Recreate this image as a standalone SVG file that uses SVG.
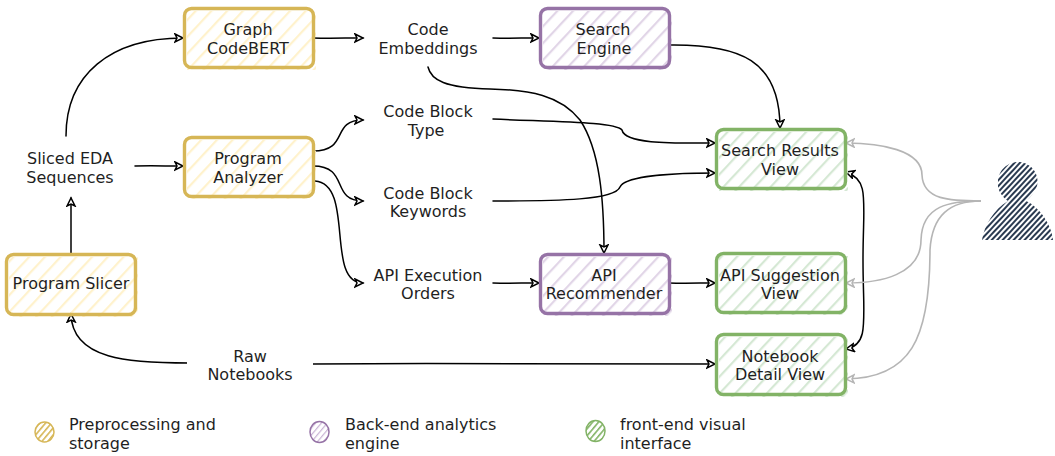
<svg xmlns="http://www.w3.org/2000/svg" width="1055" height="456" viewBox="0 0 1055 456">
<style>
text{font-family:"DejaVu Sans",Verdana,sans-serif;font-size:16px;fill:#1f1f1f;text-anchor:middle}
.leg text{text-anchor:start}
.box{fill:none;stroke-width:3.4}
.y{stroke:#d6b656}.p{stroke:#9673a6}.g{stroke:#82b366}
.c{fill:none;stroke:#000;stroke-width:1.5;stroke-linecap:round}
.u{fill:none;stroke:#b5b5b5;stroke-width:1.6}
</style>
<defs>
<pattern id="hy" width="11.500" height="11.500" patternUnits="userSpaceOnUse" patternTransform="rotate(-47)"><rect width="11.500" height="2.200" fill="#fff2cc"/></pattern>
<pattern id="hp" width="11.500" height="11.500" patternUnits="userSpaceOnUse" patternTransform="rotate(-47)"><rect width="11.500" height="2.200" fill="#e1d5e7"/></pattern>
<pattern id="hg" width="11.500" height="11.500" patternUnits="userSpaceOnUse" patternTransform="rotate(-47)"><rect width="11.500" height="2.200" fill="#d5e8d4"/></pattern>
<pattern id="hd" width="4" height="4" patternUnits="userSpaceOnUse" patternTransform="rotate(-47)"><rect width="4" height="2" fill="#2a3a50"/></pattern>
<pattern id="ly" width="4.500" height="4.500" patternUnits="userSpaceOnUse" patternTransform="rotate(-50)"><rect width="4.500" height="1.600" fill="#d6b656"/></pattern>
<pattern id="lp" width="4.500" height="4.500" patternUnits="userSpaceOnUse" patternTransform="rotate(-50)"><rect width="4.500" height="1.200" fill="#c9b3d4"/></pattern>
<pattern id="lg" width="4.500" height="4.500" patternUnits="userSpaceOnUse" patternTransform="rotate(-50)"><rect width="4.500" height="1.600" fill="#82b366"/></pattern>
<marker id="a" markerWidth="11" markerHeight="11" refX="9" refY="5" orient="auto" markerUnits="userSpaceOnUse"><path d="M1,1 L9,5 L1,9 L3,5 Z" fill="#fff" stroke="#000" stroke-width="1.500"/></marker>
<marker id="ar" markerWidth="11" markerHeight="11" refX="9" refY="5" orient="auto-start-reverse" markerUnits="userSpaceOnUse"><path d="M1,1 L9,5 L1,9 L3,5 Z" fill="#fff" stroke="#000" stroke-width="1.500"/></marker>
<marker id="g" markerWidth="11" markerHeight="11" refX="9" refY="5" orient="auto" markerUnits="userSpaceOnUse"><path d="M1,1 L9,5 L1,9 L3,5 Z" fill="#fff" stroke="#b5b5b5" stroke-width="1.500"/></marker>
</defs>

<g id="connectors">
<path class="c" marker-end="url(#a)" d="M66,136C66,75 110,38 183,38"/>
<path class="c" marker-end="url(#a)" d="M135,166C150,165.500 165,166 183,166"/>
<path class="c" marker-end="url(#a)" d="M71,253V198"/>
<path class="c" marker-end="url(#a)" d="M313,38C330,38.500 345,38 363,38"/>
<path class="c" marker-end="url(#a)" d="M493,38C510,38.500 520,38 539,38"/>
<path class="c" marker-end="url(#a)" d="M669,45C740,44 780,60 780,128"/>
<path class="c" marker-end="url(#a)" d="M313,151C350,151 330,120 363,120"/>
<path class="c" marker-end="url(#a)" d="M313,166C350,166 330,201 363,201"/>
<path class="c" marker-end="url(#a)" d="M315,181C355,184 325,283 363,283"/>
<path class="c" marker-end="url(#a)" d="M493,283C510,283.500 520,283 539,283"/>
<path class="c" marker-end="url(#a)" d="M669,283C685,283.500 700,283 715,283"/>
<path class="c" marker-end="url(#a)" d="M428,67C431,80 445,88 490,89C530,90 560,95 580,120C600,150 604,200 604,253"/>
<path class="c" marker-end="url(#a)" d="M493,119C560,122 615,122 622,130C625,145 680,143 715,143"/>
<path class="c" marker-end="url(#a)" d="M493,201C560,201 615,200 620,187C625,175 680,173 715,173"/>
<path class="c" marker-end="url(#a)" d="M189,363C130,363 72,360 71,314"/>
<path class="c" marker-end="url(#a)" d="M313,364C450,363 600,364 715,364"/>
<path class="c" marker-start="url(#ar)" marker-end="url(#ar)" d="M846,172C870,180 863,200 863,260C863,320 870,345 846,349"/>
<path class="u" marker-end="url(#g)" d="M981,201C950,201 923,200 922,175C922,150 880,143 846,143"/>
<path class="u" marker-end="url(#g)" d="M981,201C950,201 922,205 921,240C921,275 880,283 846,283"/>
<path class="u" marker-end="url(#g)" d="M981,201C950,201 932,215 930,250C930,340 910,378 846,379"/>
</g>

<g id="graph-codebert"><rect x="187" y="11" width="129" height="59" fill="url(#hy)"/><rect class="box y" x="184.500" y="8.500" width="129" height="59" rx="7"/><text x="248" y="35">Graph</text><text x="248" y="54">CodeBERT</text></g>
<g id="program-analyzer"><rect x="187" y="140" width="129" height="59" fill="url(#hy)"/><rect class="box y" x="184.500" y="137.500" width="129" height="59" rx="7"/><text x="248" y="164">Program</text><text x="248" y="183">Analyzer</text></g>
<g id="program-slicer"><rect x="9" y="257" width="129" height="60" fill="url(#hy)"/><rect class="box y" x="6.500" y="254.500" width="129" height="60" rx="7"/><text x="71" y="289">Program Slicer</text></g>
<g id="search-engine"><rect x="543" y="11" width="129" height="59" fill="url(#hp)"/><rect class="box p" x="540.500" y="8.500" width="129" height="59" rx="7"/><text x="603" y="35">Search</text><text x="604" y="54">Engine</text></g>
<g id="api-recommender"><rect x="543" y="257" width="129" height="59" fill="url(#hp)"/><rect class="box p" x="540.500" y="254.500" width="129" height="59" rx="7"/><text x="604" y="281">API</text><text x="604" y="299">Recommender</text></g>
<g id="search-results-view"><rect x="719" y="132" width="129" height="59" fill="url(#hg)"/><rect class="box g" x="716.500" y="129.500" width="129" height="59" rx="7"/><text x="780" y="156">Search Results</text><text x="780" y="175">View</text></g>
<g id="api-suggestion-view"><rect x="719" y="256" width="129" height="59" fill="url(#hg)"/><rect class="box g" x="716.500" y="253.500" width="129" height="59" rx="7"/><text x="780" y="281">API Suggestion</text><text x="780" y="299">View</text></g>
<g id="notebook-detail-view"><rect x="719" y="337" width="129" height="60" fill="url(#hg)"/><rect class="box g" x="716.500" y="334.500" width="129" height="60" rx="7"/><text x="780" y="362">Notebook</text><text x="780" y="380">Detail View</text></g>

<g id="sliced-eda"><text x="70" y="164">Sliced EDA</text><text x="70" y="183">Sequences</text></g>
<g id="code-embeddings"><text x="428" y="35">Code</text><text x="428" y="54">Embeddings</text></g>
<g id="code-block-type"><text x="428" y="117">Code Block</text><text x="426" y="136">Type</text></g>
<g id="code-block-keywords"><text x="428" y="199">Code Block</text><text x="428" y="217">Keywords</text></g>
<g id="api-execution-orders"><text x="428" y="281">API Execution</text><text x="428" y="299">Orders</text></g>
<g id="raw-notebooks"><rect x="187" y="346" width="126" height="38" fill="#fff"/><text x="250" y="362">Raw</text><text x="250" y="380">Notebooks</text></g>

<g id="user"><path fill="url(#hd)" d="M1018,162C1031,162 1040,174 1037,186C1034,193 1030,198 1026,201C1040,207 1052,226 1053,240H982C984,226 994,209 1008,201C1002,197 997,190 998,182C998,171 1007,162 1018,162Z"/></g>

<g id="legend" class="leg">
<g id="legend-preprocessing"><ellipse cx="44.500" cy="432" rx="9.500" ry="10" fill="url(#ly)" stroke="#d6b656" stroke-width="1.500"/><text x="69" y="430">Preprocessing and</text><text x="69" y="449">storage</text></g>
<g id="legend-backend"><ellipse cx="319.500" cy="432" rx="9.500" ry="10.500" fill="url(#lp)" stroke="#9673a6" stroke-width="1.500"/><text x="345" y="430">Back-end analytics</text><text x="345" y="449">engine</text></g>
<g id="legend-frontend"><ellipse cx="595.500" cy="431" rx="9.500" ry="10.500" fill="url(#lg)" stroke="#82b366" stroke-width="1.500"/><text x="620" y="430">front-end visual</text><text x="620" y="449">interface</text></g>
</g>
</svg>
